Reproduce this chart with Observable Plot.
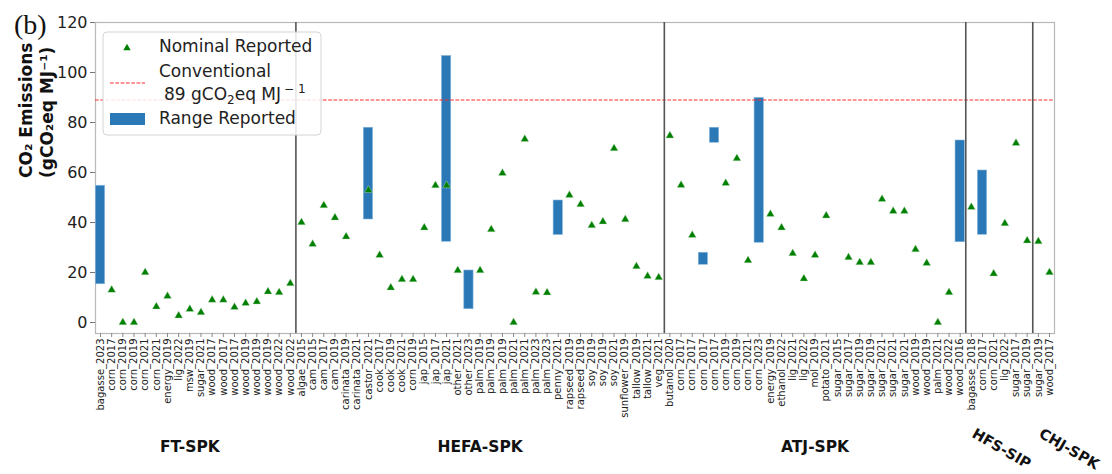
<!DOCTYPE html>
<html><head><meta charset="utf-8">
<script src="https://cdn.jsdelivr.net/npm/d3@7"></script>
<script src="https://cdn.jsdelivr.net/npm/@observablehq/plot@0.6"></script>
<style>
body{margin:0;background:#fff;}
#wrap{position:relative;width:1112px;height:474px;overflow:hidden;font-family:"DejaVu Sans",sans-serif;}
#wrap > svg{position:absolute;left:0;top:0;}
#tag{position:absolute;left:14px;top:11px;font-family:"Liberation Serif","DejaVu Serif",serif;font-size:28px;line-height:1;color:#111;}
</style></head><body><div id="wrap"><div id="tag">(b)</div></div>
<script>
const categories = [
  // FT-SPK
  "bagasse_2023","corn_2017","corn_2019","corn_2019","corn_2021","corn_2021","energy_2019","lig_2022","msw_2019","sugar_2021",
  "wood_2017","wood_2017","wood_2017","wood_2019","wood_2019","wood_2019","wood_2022","wood_2022",
  // HEFA-SPK
  "algae_2015","cam_2015","cam_2017","cam_2019","carinata_2019","carinata_2021","castor_2021","cook_2017","cook_2019","cook_2021",
  "corn_2019","jap_2015","jap_2017","jap_2021","other_2021","other_2023","palm_2019","palm_2019","palm_2019","palm_2021",
  "palm_2021","palm_2023","palm_2023","penny_2021","rapseed_2019","rapseed_2019","soy_2019","soy_2019","soy_2021","sunflower_2019",
  "tallow_2019","tallow_2021","veg_2021",
  // ATJ-SPK
  "butanol_2020","corn_2017","corn_2017","corn_2017","corn_2017","corn_2019","corn_2019","corn_2021","corn_2023","energy_2019",
  "ethanol_2022","lig_2021","lig_2022","mol_2019","potato_2021","sugar_2015","sugar_2017","sugar_2019","sugar_2019","sugar_2021",
  "sugar_2021","sugar_2021","wood_2019","wood_2019","palm_2021","wood_2022","wood_2016",
  // HFS-SIP
  "bagasse_2018","corn_2017","corn_2021","lig_2022","sugar_2017","sugar_2019",
  // CHJ-SPK
  "sugar_2019","wood_2017"
];
const groupNames = ["FT-SPK","HEFA-SPK","ATJ-SPK","HFS-SIP","CHJ-SPK"];
const groupSizes = [18, 33, 27, 6, 2];

const nominal = [
  null,13,0,0,20,6.3,10.5,2.7,5.3,4,
  9,9,6.1,7.7,8.3,12.3,12,15.6,
  40,31.3,46.8,41.9,34.3,null,52.9,26.9,13.9,17.2,
  17.2,37.9,54.8,54.8,20.8,null,20.8,37.2,59.7,0,
  73.3,12.1,11.9,null,50.9,47.2,38.8,40.3,69.6,41.2,
  22.4,18.5,18.0,
  74.7,54.9,34.9,null,null,55.7,65.6,24.8,null,43.3,
  37.9,27.6,17.5,26.9,42.7,null,26.0,24.0,24.0,49.3,
  44.5,44.5,29.2,23.7,0,12.0,null,
  46.1,null,19.5,39.6,71.7,32.7,
  32.4,20.0
];
const rangeLow = [
  15.3,null,null,null,null,null,null,null,null,null,
  null,null,null,null,null,null,null,null,
  null,null,null,null,null,null,41.2,null,null,null,
  null,null,null,32.3,null,5.3,null,null,null,null,
  null,null,null,35.0,null,null,null,null,null,null,
  null,null,null,
  null,null,null,23.1,71.9,null,null,null,31.9,null,
  null,null,null,null,null,null,null,null,null,null,
  null,null,null,null,null,null,32.1,
  null,35.1,null,null,null,null,
  null,null
];
const rangeHigh = [
  54.7,null,null,null,null,null,null,null,null,null,
  null,null,null,null,null,null,null,null,
  null,null,null,null,null,null,77.9,null,null,null,
  null,null,null,106.6,null,20.8,null,null,null,null,
  null,null,null,48.8,null,null,null,null,null,null,
  null,null,null,
  null,null,null,27.9,77.9,null,null,null,89.8,null,
  null,null,null,null,null,null,null,null,null,null,
  null,null,null,null,null,null,72.8,
  null,60.8,null,null,null,null,
  null,null
];
const yTicks = [0, 20, 40, 60, 80, 100, 120];
const conventional = 89;

const idx = d3.range(categories.length);
const pts = idx.filter(i => nominal[i] != null).map(i => ({i, v: nominal[i]}));
const bars = idx.filter(i => rangeLow[i] != null).map(i => ({i, lo: rangeLow[i], hi: rangeHigh[i]}));
const ends = Array.from(d3.cumsum(groupSizes), s => s - 1);
const starts = ends.map((e, k) => e - groupSizes[k] + 1);
const separators = ends.slice(0, -1);
const groups = groupNames.map((name, k) => ({name, mid: Math.floor((starts[k] + ends[k]) / 2), start: starts[k], tilted: k >= 3}));

const chart = Plot.plot({
  width: 1112, height: 474,
  marginTop: 22, marginBottom: 141, marginLeft: 95, marginRight: 58,
  style: {fontFamily: '"DejaVu Sans", sans-serif', fontSize: "10px", color: "#222", background: "transparent", overflow: "visible"},
  x: {type: "band", domain: idx, paddingInner: 0.17, paddingOuter: 0.033, align: 0.5, round: false, label: null},
  y: {domain: [-4.4, 120], label: null},
  marks: [
    Plot.frame({stroke: "#b8b8b8", strokeWidth: 1.2}),
    Plot.axisY({ticks: yTicks, tickSize: 5, tickPadding: 3, fontSize: 16, stroke: "#777", label: null}),
    Plot.axisX({tickRotate: -90, tickSize: 4, tickPadding: 1, fontSize: 10, stroke: "#888", tickFormat: i => categories[i], label: null}),
    Plot.barY(bars, {x: "i", y1: "lo", y2: "hi", fill: "#2b78b6", stroke: "#86b6dd", strokeWidth: 0.6}),
    Plot.ruleY([conventional], {stroke: "#ff2a2a", strokeWidth: 1, strokeDasharray: "3.7,1.6"}),
    Plot.ruleX(separators, {x: d => d, dx: 5.6, stroke: "#555", strokeWidth: 1.6}),
    Plot.dot(pts, {x: "i", y: "v", symbol: "triangle", r: 3, fill: "#008000", stroke: "#cfe6cf", strokeWidth: 0.4}),
    Plot.text(groups.filter(g => !g.tilted), {x: "mid", text: "name", frameAnchor: "bottom", dy: 114, lineAnchor: "middle", fontSize: 15.5, fontWeight: "bold", fill: "#111"}),
    Plot.text(groups.filter(g => g.tilted), {x: "start", text: "name", frameAnchor: "bottom", dy: 99, dx: 2, rotate: 30, textAnchor: "start", lineAnchor: "middle", fontSize: 14.5, fontWeight: "bold", fill: "#111"}),
    Plot.text([0], {frameAnchor: "left", text: () => "CO₂ Emissions\n(gCO₂eq MJ⁻¹)", rotate: -90, dx: -59.5, lineAnchor: "middle", lineHeight: 1.25, fontSize: 17, fontWeight: "bold", fill: "#111"})
  ]
});
document.getElementById("wrap").appendChild(chart);

// Legend overlay
const ov = d3.select("#wrap").append("svg")
  .attr("width", 1112).attr("height", 474)
  .style("position", "absolute").style("left", 0).style("top", 0)
  .attr("font-family", '"DejaVu Sans", sans-serif').attr("font-size", 17).attr("fill", "#222");
ov.append("rect").attr("x", 103).attr("y", 32).attr("width", 218).attr("height", 103).attr("rx", 4)
  .attr("fill", "white").attr("fill-opacity", 0.85).attr("stroke", "#d4d4d4");
ov.append("path").attr("d", d3.symbol(d3.symbolTriangle, 24)()).attr("transform", "translate(127,48)").attr("fill", "#008000");
ov.append("line").attr("x1", 110).attr("x2", 145).attr("y1", 83).attr("y2", 83)
  .attr("stroke", "#ff2a2a").attr("stroke-width", 1).attr("stroke-dasharray", "3.7,1.6");
ov.append("rect").attr("x", 110).attr("y", 113).attr("width", 35).attr("height", 12).attr("fill", "#2b78b6");
ov.append("text").attr("x", 159).attr("y", 52).text("Nominal Reported");
ov.append("text").attr("x", 159).attr("y", 77).text("Conventional");
const t2 = ov.append("text").attr("x", 164).attr("y", 100);
t2.append("tspan").text("89 gCO");
t2.append("tspan").attr("font-size", 12).attr("dy", 4).text("2");
t2.append("tspan").attr("dy", -4).text("eq MJ");
t2.append("tspan").attr("font-size", 12).attr("dy", -7).attr("dx", 3).text("− 1");
ov.append("text").attr("x", 159).attr("y", 124).text("Range Reported");
</script></body></html>
